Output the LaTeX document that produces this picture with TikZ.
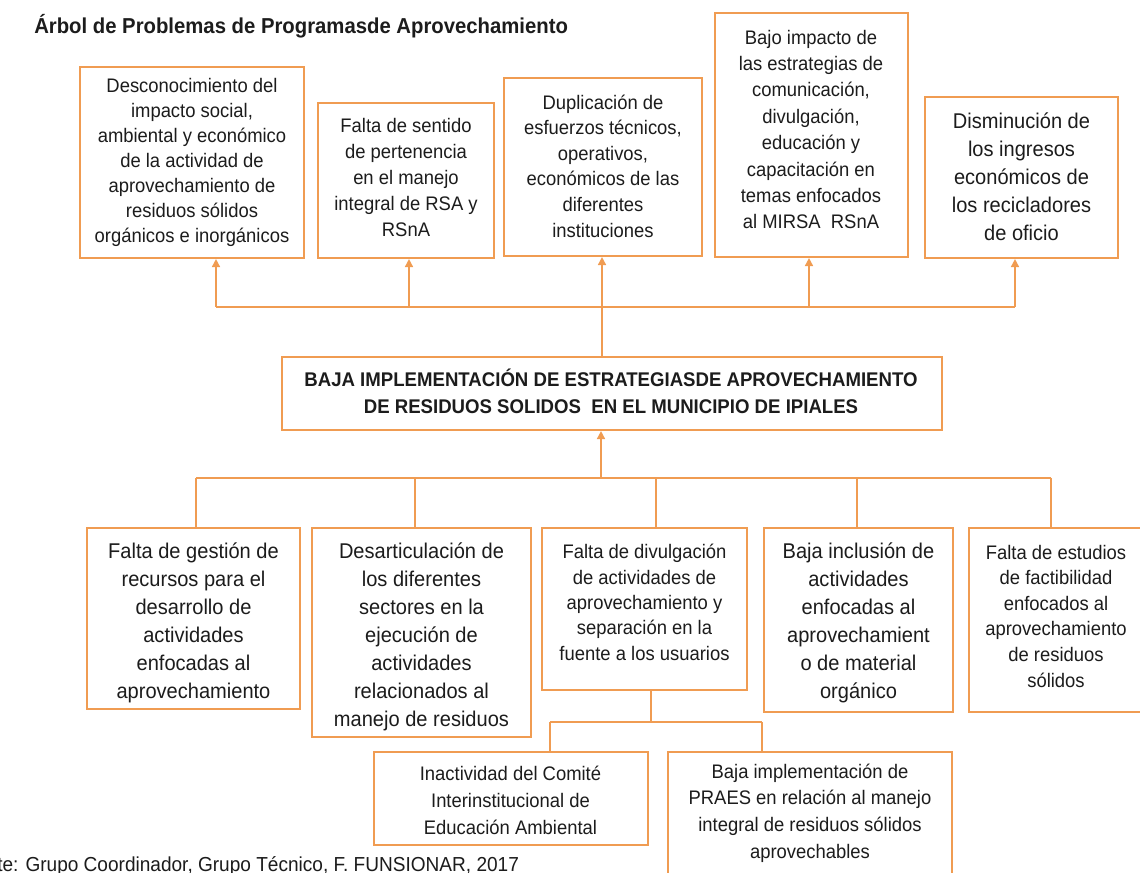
\documentclass[tikz,border=0pt]{standalone}
\usepackage{fontspec}
\setmainfont{Liberation Sans}[FakeStretch=0.94]
\usetikzlibrary{arrows.meta}
\newdimen\pxu \pxu=0.75pt
\definecolor{org}{RGB}{240,156,82}
\definecolor{ink}{RGB}{28,28,28}
\tikzset{
  bx/.style 2 args={draw=org, line width=1.6pt, fill=white, inner sep=0pt,
    minimum width=#1\pxu, minimum height=#2\pxu},
  txt/.style={inner sep=0pt, align=center, text=ink},
  sm/.style={txt, font=\fontsize{14.7pt}{#1}\selectfont},
  bg/.style={txt, font=\fontsize{16pt}{21pt}\selectfont},
  conn/.style={draw=org, line width=1.2pt},
  arr/.style={conn, -{Triangle[length=6pt,width=6pt]}},
}
\begin{document}
\begin{tikzpicture}[x=0.75pt,y=-0.75pt]
\useasboundingbox[fill=white] (0,0) rectangle (1140,873);

% title
\node[anchor=base west, inner sep=0pt, text=ink, font=\fontsize{16.2pt}{19pt}\selectfont\bfseries] (title) at (34,34)
  {Árbol de Problemas de Programasde Aprovechamiento};

% effects (top)
\node[bx={224}{191}] (b1) at (192,162.5) {};
\node[sm=18.75pt] (b1t) at (192,162.5) {Desconocimiento del\\impacto social,\\ambiental y económico\\de la actividad de\\aprovechamiento de\\residuos sólidos\\orgánicos e inorgánicos};
\node[bx={176}{155}] (b2) at (406,180.5) {};
\node[sm=19.5pt] (b2t) at (406,177.5) {Falta de sentido\\de pertenencia\\en el manejo\\integral de RSA y\\RSnA};
\node[bx={198}{178}] (b3) at (603,167) {};
\node[sm=19.2pt] (b3t) at (603,166) {Duplicación de\\esfuerzos técnicos,\\operativos,\\económicos de las\\diferentes\\instituciones};
\node[bx={193}{244}] (b4) at (811.5,135) {};
\node[sm=19.8pt] (b4t) at (811,129.5) {Bajo impacto de\\las estrategias de\\comunicación,\\divulgación,\\educación y\\capacitación en\\temas enfocados\\al MIRSA\ \ RSnA};
\node[bx={193}{161}] (b5) at (1021.5,177.5) {};
\node[bg] (b5t) at (1021.5,176.5) {Disminución de\\los ingresos\\económicos de\\los recicladores\\de oficio};

% central problem
\node[bx={660}{73}] (cen) at (612,393.5) {};
\node[txt, font=\fontsize{14.85pt}{20.25pt}\selectfont\bfseries] (cent) at (611,391.5)
  {BAJA IMPLEMENTACIÓN DE ESTRATEGIASDE APROVECHAMIENTO\\DE RESIDUOS SOLIDOS\ \ EN EL MUNICIPIO DE IPIALES};

% causes (bottom)
\node[bx={213}{181}] (c1) at (193.5,618.5) {};
\node[bg] (c1t) at (193.5,622.5) {Falta de gestión de\\recursos para el\\desarrollo de\\actividades\\enfocadas al\\aprovechamiento};
\node[bx={219}{209}] (c2) at (421.5,632.5) {};
\node[bg] (c2t) at (421.5,637) {Desarticulación de\\los diferentes\\sectores en la\\ejecución de\\actividades\\relacionados al\\manejo de residuos};
\node[bx={205}{162}] (c3) at (644.5,609) {};
\node[sm=19pt] (c3t) at (644.5,602.5) {Falta de divulgación\\de actividades de\\aprovechamiento y\\separación en la\\fuente a los usuarios};
\node[bx={189}{184}] (c4) at (858.5,620) {};
\node[bg] (c4t) at (858.5,622.5) {Baja inclusión de\\actividades\\enfocadas al\\aprovechamient\\o de material\\orgánico};
\node[bx={174}{184}] (c5) at (1056,620) {};
\node[sm=19.2pt] (c5t) at (1056,616) {Falta de estudios\\de factibilidad\\enfocados al\\aprovechamiento\\de residuos\\sólidos};

% sub causes
\node[bx={274}{93}] (d1) at (511,798.5) {};
\node[sm=20.25pt] (d1t) at (510.5,800) {Inactividad del Comité\\Interinstitucional de\\Educación Ambiental};
\node[bx={284}{140}] (d2) at (810,822) {};
\node[sm=20pt] (d2t) at (810,813) {Baja implementación de\\PRAES en relación al manejo\\integral de residuos sólidos\\aprovechables};

% footer
\node[anchor=base west, inner sep=0pt, text=ink, font=\fontsize{15.2pt}{17pt}\selectfont] (src) at (-3,871)
  {te: Grupo Coordinador, Grupo Técnico, F. FUNSIONAR, 2017};

% top connectors
\coordinate (t1) at (216,307);
\coordinate (t2) at (409,307);
\coordinate (t3) at (602,307);
\coordinate (t4) at (809,307);
\coordinate (t5) at (1015,307);
\draw[conn] (t1) -- (t5);
\draw[conn] (cen.north -| t3) -- (t3);
\draw[arr] (t1) -- (t1 |- b1.south);
\draw[arr] (t2) -- (t2 |- b2.south);
\draw[arr] (t3) -- (t3 |- b3.south);
\draw[arr] (t4) -- (t4 |- b4.south);
\draw[arr] (t5) -- (t5 |- b5.south);

% bottom connectors
\coordinate (m0) at (601,478);
\coordinate (m1) at (196,478);
\coordinate (m2) at (415,478);
\coordinate (m3) at (656,478);
\coordinate (m4) at (857,478);
\coordinate (m5) at (1051,478);
\draw[arr] (m0) -- (m0 |- cen.south);
\draw[conn] (m1) -- (m5);
\draw[conn] (m1) -- (m1 |- c1.north);
\draw[conn] (m2) -- (m2 |- c2.north);
\draw[conn] (m3) -- (m3 |- c3.north);
\draw[conn] (m4) -- (m4 |- c4.north);
\draw[conn] (m5) -- (m5 |- c5.north);

% sub-cause connectors
\coordinate (s0) at (651,722);
\coordinate (s1) at (550,722);
\coordinate (s2) at (762,722);
\draw[conn] (c3.south -| s0) -- (s0);
\draw[conn] (s1) -- (s2);
\draw[conn] (s1) -- (s1 |- d1.north);
\draw[conn] (s2) -- (s2 |- d2.north);
\end{tikzpicture}
\end{document}
